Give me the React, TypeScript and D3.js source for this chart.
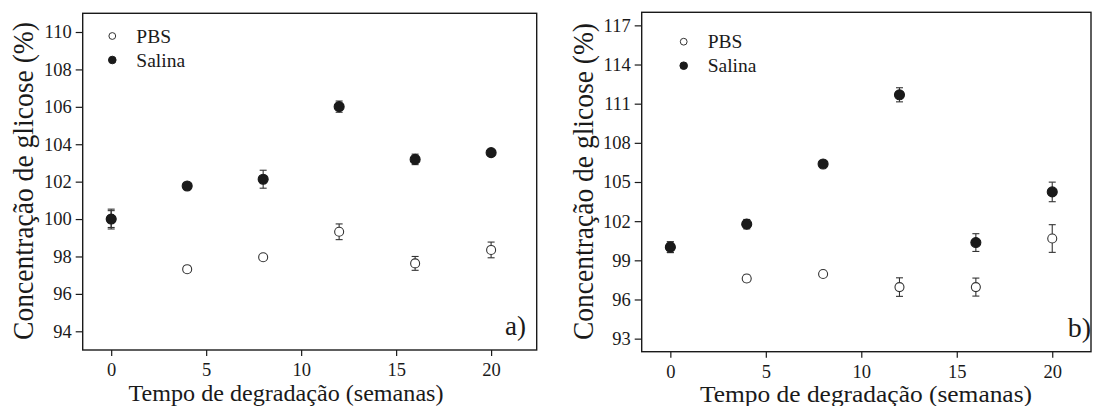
import React, { useEffect, useRef } from 'react'
import * as d3 from 'd3'

// weeks of degradation
const weeks = [0, 4, 8, 12, 16, 20]

// panel a) values (%)
const pbsA = [100.0, 97.32, 97.96, 99.32, 97.63, 98.35]
const pbsErrA = [0.45, 0.15, 0.12, 0.42, 0.37, 0.42]
const salinaA = [100.0, 101.77, 102.13, 106.01, 103.19, 103.55]
const salinaErrA = [0.53, 0.12, 0.48, 0.3, 0.28, 0.12]

// panel b) values (%)
const pbsB = [100.0, 97.61, 97.95, 96.95, 96.95, 100.67]
const pbsErrB = [0.4, 0.25, 0.15, 0.71, 0.69, 1.06]
const salinaB = [100.01, 101.77, 106.38, 111.68, 100.36, 104.24]
const salinaErrB = [0.42, 0.36, 0.2, 0.54, 0.68, 0.75]

const xTicks = [0, 5, 10, 15, 20]
const yTicksA = [94, 96, 98, 100, 102, 104, 106, 108, 110]
const yTicksB = [93, 96, 99, 102, 105, 108, 111, 114, 117]

const seriesNames = ['PBS', 'Salina']
const yLabel = 'Concentração de glicose (%)'
const xLabel = 'Tempo de degradação (semanas)'

const FONT = '"Liberation Serif", "Times New Roman", serif'
const INK = '#1a1a1a'

type PanelProps = {
  pbs: number[]; pbsErr: number[]; salina: number[]; salinaErr: number[]
  yTicks: number[]; yDomain: [number, number]; xDomain: [number, number]
  box: { left: number; right: number; top: number; bottom: number }
  tag: string
  tickFont: number
  yLab: { x: number; y: number; len: number }
  xLab: { x: number; y: number; len: number; size: number }
  legend: { x: number; y: number }
  tagPos: { x: number; y: number; size: number }
}

const Panel = (props: PanelProps) => {
  const ref = useRef<SVGGElement>(null)

  useEffect(() => {
    const g = d3.select(ref.current)
    g.selectAll('*').remove()
    const { box } = props

    const x = d3.scaleLinear().domain(props.xDomain).range([box.left, box.right])
    const y = d3.scaleLinear().domain(props.yDomain).range([box.bottom, box.top])

    // y axis
    const yAxisG = g.append('g')
      .attr('transform', `translate(${box.left},0)`)
      .call(d3.axisLeft(y).tickValues(props.yTicks).tickSize(7).tickPadding(4).tickSizeOuter(0))
    yAxisG.attr('font-family', FONT)
    yAxisG.select('.domain').remove()
    yAxisG.selectAll('line').attr('stroke', INK).attr('stroke-width', 1.2)
    yAxisG.selectAll('text')
      .attr('font-family', FONT).attr('font-size', props.tickFont).attr('fill', INK)

    // x axis
    const xAxisG = g.append('g')
      .attr('transform', `translate(0,${box.bottom})`)
      .call(d3.axisBottom(x).tickValues(xTicks).tickSize(6).tickPadding(7).tickSizeOuter(0))
    xAxisG.attr('font-family', FONT)
    xAxisG.select('.domain').remove()
    xAxisG.selectAll('line').attr('stroke', INK).attr('stroke-width', 1.2)
    xAxisG.selectAll('text')
      .attr('font-family', FONT).attr('font-size', props.tickFont).attr('fill', INK)

    // frame
    g.append('rect')
      .attr('x', box.left).attr('y', box.top)
      .attr('width', box.right - box.left).attr('height', box.bottom - box.top)
      .attr('fill', 'none').attr('stroke', INK).attr('stroke-width', 1.4)

    const drawSeries = (vals: number[], errs: number[], filled: boolean) => {
      const rows = weeks.map((w, i) => ({ w, v: vals[i], e: errs[i] }))
      const eb = g.append('g').attr('stroke', '#333').attr('stroke-width', 1.1)
      rows.forEach(d => {
        const x0 = x(d.w)
        const yt = y(d.v + d.e)
        const yb = y(d.v - d.e)
        eb.append('line').attr('x1', x0).attr('x2', x0).attr('y1', yt).attr('y2', yb)
        eb.append('line').attr('x1', x0 - 3.5).attr('x2', x0 + 3.5).attr('y1', yt).attr('y2', yt)
        eb.append('line').attr('x1', x0 - 3.5).attr('x2', x0 + 3.5).attr('y1', yb).attr('y2', yb)
      })
      g.append('g').selectAll('circle')
        .data(rows)
        .enter().append('circle')
          .attr('cx', d => x(d.w))
          .attr('cy', d => y(d.v))
          .attr('r', filled ? 5 : 4.5)
          .attr('fill', filled ? INK : '#fff')
          .attr('stroke', filled ? INK : '#333')
          .attr('stroke-width', 1.1)
    }

    drawSeries(props.pbs, props.pbsErr, false)
    drawSeries(props.salina, props.salinaErr, true)

    // legend
    seriesNames.forEach((name, i) => {
      const ly = props.legend.y + i * 24
      g.append('circle')
        .attr('cx', props.legend.x).attr('cy', ly)
        .attr('r', i === 0 ? 3.4 : 3.8)
        .attr('fill', i === 0 ? '#fff' : INK)
        .attr('stroke', i === 0 ? '#333' : INK).attr('stroke-width', 1)
      g.append('text')
        .attr('x', props.legend.x + 24).attr('y', ly + 6.5)
        .attr('font-family', FONT).attr('font-size', 19.5).attr('fill', INK)
        .text(name)
    })

    // panel tag
    g.append('text')
      .attr('x', props.tagPos.x).attr('y', props.tagPos.y)
      .attr('text-anchor', 'end')
      .attr('font-family', FONT).attr('font-size', props.tagPos.size).attr('fill', INK)
      .text(props.tag)

    // axis titles
    g.append('text')
      .attr('transform', `translate(${props.yLab.x},${props.yLab.y}) rotate(-90)`)
      .attr('text-anchor', 'middle')
      .attr('font-family', FONT).attr('font-size', 29).attr('fill', INK)
      .attr('textLength', props.yLab.len).attr('lengthAdjust', 'spacingAndGlyphs')
      .text(yLabel)

    g.append('text')
      .attr('x', props.xLab.x).attr('y', props.xLab.y)
      .attr('text-anchor', 'middle')
      .attr('font-family', FONT).attr('font-size', props.xLab.size).attr('fill', INK)
      .attr('textLength', props.xLab.len).attr('lengthAdjust', 'spacingAndGlyphs')
      .text(xLabel)
  }, [props])

  return <g ref={ref} />
}

const App = () => {
  return (
    <svg width={1093} height={406} style={{ position: 'absolute', left: 0, top: 0, background: '#fff' }}>
      <Panel
        pbs={pbsA} pbsErr={pbsErrA} salina={salinaA} salinaErr={salinaErrA}
        yTicks={yTicksA} yDomain={[93, 111]} xDomain={[-1.5, 22.4]}
        box={{ left: 82.7, right: 536.7, top: 13.3, bottom: 350 }}
        tag="a)" tickFont={18.5}
        yLab={{ x: 33, y: 181, len: 318 }}
        xLab={{ x: 286, y: 401, len: 315, size: 23 }}
        legend={{ x: 112.3, y: 36 }}
        tagPos={{ x: 526, y: 335, size: 27 }}
      />
      <Panel
        pbs={pbsB} pbsErr={pbsErrB} salina={salinaB} salinaErr={salinaErrB}
        yTicks={yTicksB} yDomain={[92, 118]} xDomain={[-1.5, 22.03]}
        box={{ left: 641.7, right: 1091, top: 12.3, bottom: 351.7 }}
        tag="b)" tickFont={18.5}
        yLab={{ x: 593, y: 181.5, len: 317 }}
        xLab={{ x: 866, y: 402, len: 332, size: 23.5 }}
        legend={{ x: 683.7, y: 41.7 }}
        tagPos={{ x: 1091, y: 336.7, size: 28 }}
      />
    </svg>
  )
}

export default App
